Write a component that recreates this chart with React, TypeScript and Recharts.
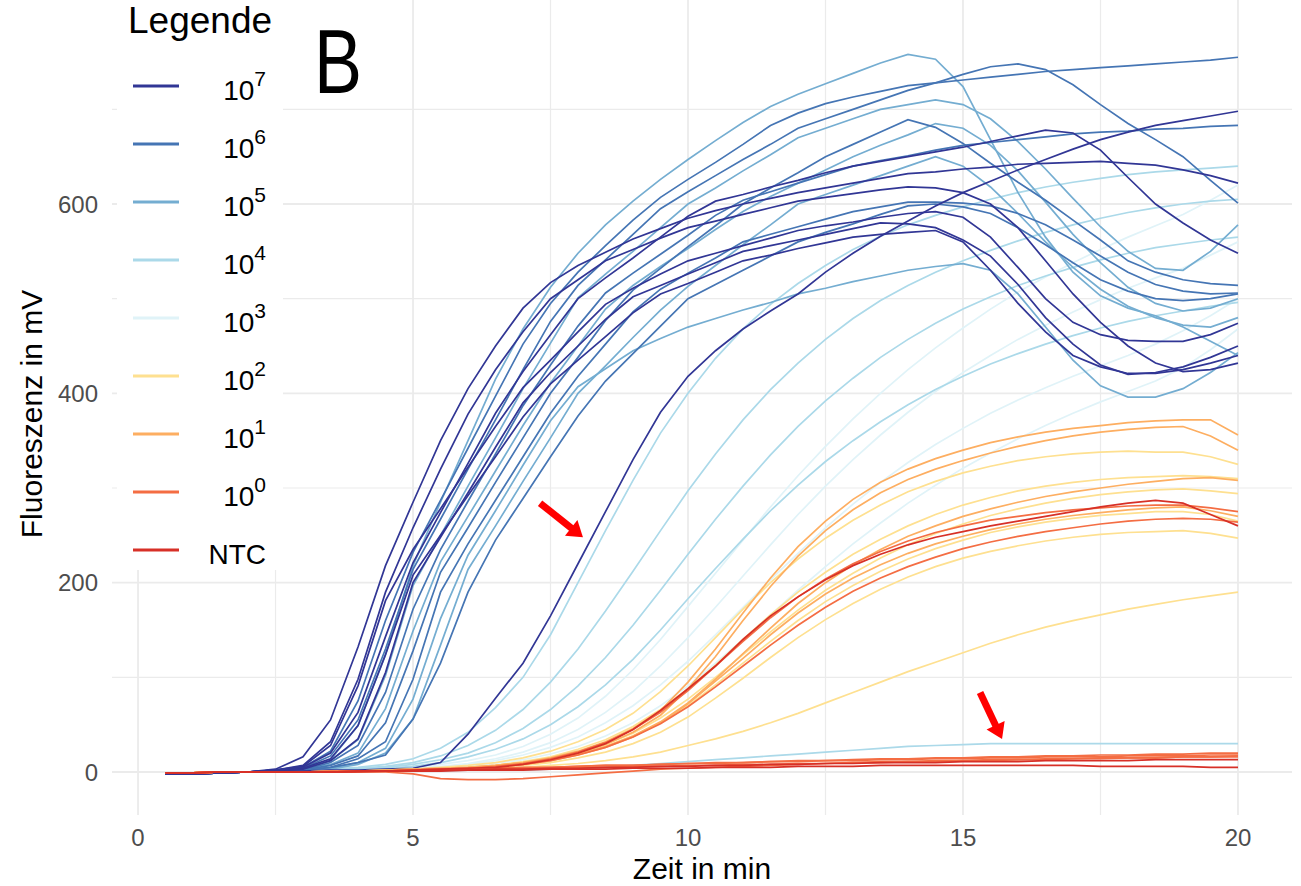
import { LineChart, Line, XAxis, YAxis, CartesianGrid, ReferenceLine } from 'recharts'

const FONT = '"Liberation Sans", Arial, Helvetica, sans-serif'

// measurement times in min
const time = [0.5, 1, 1.5, 2, 2.5, 3, 3.5, 4, 4.5, 5, 5.5, 6, 6.5, 7, 7.5, 8, 8.5, 9, 9.5, 10, 10.5, 11, 11.5, 12, 12.5, 13, 13.5, 14, 14.5, 15, 15.5, 16, 16.5, 17, 17.5, 18, 18.5, 19, 19.5, 20]

// 10^7
const n7a = [-2, -2, -1, 0, 3, 16, 55, 132, 218, 285, 350, 405, 450, 490, 517, 535, 549, 563, 574, 585, 593, 600, 606, 612, 617, 622, 627, 632, 634, 637, 639, 642, 643, 644, 645, 643, 641, 636, 630, 622]
const n7b = [-2, -2, -1, 0, 2, 6, 28, 91, 181, 235, 278, 322, 365, 406, 435, 465, 494, 511, 526, 540, 548, 556, 564, 572, 577, 581, 586, 590, 592, 586, 565, 533, 500, 475, 462, 456, 455, 455, 462, 474]
const n7c = [-2, -2, -1, 0, 1, 4, 14, 49, 124, 208, 250, 292, 333, 375, 410, 435, 460, 485, 505, 516, 528, 540, 546, 553, 559, 565, 568, 570, 572, 560, 530, 495, 465, 440, 428, 421, 421, 425, 432, 440]
const n7d = [-2, -2, -1, 0, 1, 3, 12, 35, 105, 200, 248, 295, 343, 390, 422, 450, 478, 502, 514, 526, 538, 550, 556, 562, 568, 574, 580, 579, 575, 562, 545, 515, 480, 452, 430, 420, 422, 428, 438, 450]
const n7e = [-2, -2, -1, 0, 2, 5, 20, 63, 143, 221, 274, 326, 379, 423, 462, 500, 522, 543, 565, 587, 603, 610, 618, 625, 633, 640, 645, 650, 655, 660, 666, 672, 678, 675, 657, 628, 600, 580, 562, 548]
const n7f = [-2, -2, -1, 0, 2, 7, 32, 98, 190, 258, 320, 378, 425, 465, 500, 520, 540, 552, 564, 575, 582, 589, 596, 603, 607, 611, 615, 618, 617, 612, 600, 575, 540, 505, 475, 450, 432, 423, 425, 432]
const n7g = [-2, -2, -1, 0, 1, 1, 2, 2, 3, 4, 10, 40, 78, 115, 165, 220, 275, 330, 380, 418, 445, 468, 487, 505, 528, 548, 566, 582, 598, 612, 624, 636, 647, 658, 668, 676, 683, 688, 693, 698]

// 10^6
const b6a = [-2, -2, -1, 0, 2, 5, 22, 75, 160, 232, 287, 342, 397, 452, 495, 528, 556, 583, 607, 626, 644, 663, 683, 696, 706, 713, 719, 725, 728, 731, 734, 737, 740, 742, 744, 746, 748, 750, 752, 755]
const b6b = [-2, -2, -1, 0, 1, 2, 10, 28, 84, 172, 235, 286, 336, 387, 430, 471, 506, 527, 547, 567, 588, 604, 613, 622, 631, 640, 646, 651, 657, 662, 665, 668, 671, 674, 676, 677, 679, 680, 682, 683]
const b6c = [-2, -2, -1, 0, 1, 4, 17, 55, 130, 214, 267, 320, 372, 425, 476, 514, 541, 568, 595, 613, 630, 647, 663, 680, 690, 700, 710, 720, 728, 737, 745, 748, 742, 726, 705, 685, 668, 650, 625, 601]
const b6d = [-2, -2, -1, 0, 1, 2, 7, 17, 52, 128, 211, 258, 306, 353, 400, 438, 477, 509, 532, 555, 577, 600, 617, 633, 650, 663, 676, 689, 681, 664, 643, 623, 604, 583, 562, 540, 528, 520, 516, 514]
const b6e = [-2, -2, -1, 0, 1, 2, 5, 10, 18, 56, 115, 190, 245, 289, 333, 376, 413, 442, 471, 500, 515, 530, 545, 560, 570, 579, 589, 598, 600, 597, 590, 575, 557, 538, 520, 508, 500, 498, 500, 505]
const b6f = [-2, -2, -1, 0, 1, 2, 5, 14, 32, 98, 190, 241, 287, 333, 379, 418, 452, 486, 510, 527, 543, 560, 568, 576, 584, 592, 597, 602, 602, 601, 598, 590, 578, 562, 545, 528, 515, 508, 505, 506]

// 10^5
const l5a = [-2, -2, -1, 0, 1, 3, 13, 49, 124, 218, 285, 350, 415, 468, 512, 548, 578, 603, 626, 647, 667, 686, 703, 716, 727, 738, 749, 758, 753, 724, 668, 612, 565, 528, 503, 490, 482, 470, 455, 440]
const l5b = [-2, -2, -1, 0, 1, 3, 12, 34, 102, 197, 250, 302, 353, 405, 453, 501, 526, 550, 575, 600, 617, 635, 652, 670, 680, 690, 700, 705, 710, 705, 690, 666, 637, 606, 576, 550, 532, 530, 550, 578]
const l5c = [-2, -2, -1, 0, 1, 2, 8, 20, 67, 149, 222, 270, 318, 366, 411, 450, 489, 514, 534, 553, 573, 592, 608, 622, 636, 650, 662, 673, 685, 680, 662, 635, 602, 568, 538, 512, 495, 487, 490, 500]
const l5d = [-2, -2, -1, 0, 1, 1, 4, 10, 25, 77, 162, 229, 276, 324, 371, 407, 426, 445, 458, 470, 479, 488, 496, 505, 511, 518, 524, 530, 534, 537, 530, 505, 470, 435, 408, 396, 396, 405, 422, 443]
const l5e = [-2, -2, -1, 0, 1, 1, 3, 8, 20, 56, 134, 214, 260, 307, 353, 400, 429, 459, 488, 513, 535, 557, 578, 600, 610, 620, 630, 640, 650, 640, 618, 590, 560, 533, 510, 492, 480, 472, 470, 480]

// 10^4
const f4a = [-1, -1, 0, 0, 1, 2, 3, 5, 8, 14, 25, 42, 68, 100, 145, 200, 255, 308, 358, 400, 437, 468, 494, 516, 535, 552, 566, 578, 588, 597, 605, 612, 618, 623, 627, 631, 634, 636, 638, 640]
const f4b = [-1, -1, 0, 0, 1, 1, 2, 4, 6, 10, 17, 28, 44, 66, 95, 130, 170, 212, 255, 297, 336, 372, 404, 432, 457, 479, 498, 514, 528, 540, 551, 561, 570, 578, 585, 591, 596, 600, 603, 605]
const f4c = [-1, -1, 0, 0, 0, 1, 2, 3, 5, 8, 13, 20, 31, 46, 66, 91, 121, 155, 192, 230, 267, 302, 335, 365, 392, 416, 438, 457, 474, 489, 502, 514, 524, 533, 541, 548, 554, 558, 562, 565]
const f4d = [-1, -1, 0, 0, 0, 1, 1, 2, 4, 6, 10, 16, 24, 35, 50, 69, 92, 119, 150, 183, 215, 246, 276, 303, 328, 350, 370, 388, 404, 418, 431, 442, 452, 461, 469, 476, 482, 487, 492, 496]
const f4e = [-1, -1, 0, 0, 0, 0, 0, 1, 1, 1, 1, 2, 2, 2, 3, 4, 5, 7, 9, 11, 13, 15, 17, 19, 21, 23, 25, 27, 28, 29, 30, 30, 30, 30, 30, 30, 30, 30, 30, 30]

// 10^3
const p3a = [-1, -1, 0, 0, 0, 1, 1, 2, 3, 5, 8, 12, 18, 27, 40, 57, 80, 108, 140, 175, 210, 245, 280, 313, 344, 373, 400, 425, 448, 469, 489, 507, 523, 538, 552, 565, 577, 589, 604, 620]
const p3b = [-1, -1, 0, 0, 0, 1, 1, 2, 3, 4, 6, 9, 14, 21, 31, 45, 63, 85, 112, 142, 174, 207, 240, 272, 302, 330, 356, 380, 402, 422, 440, 457, 472, 486, 499, 511, 522, 532, 546, 560]
const p3c = [-1, -1, 0, 0, 0, 0, 1, 1, 2, 3, 5, 8, 12, 18, 26, 37, 52, 70, 92, 117, 145, 174, 203, 231, 258, 283, 306, 327, 346, 363, 379, 393, 406, 418, 429, 440, 452, 466, 482, 500]
const p3d = [-1, -1, 0, 0, 0, 0, 1, 1, 2, 3, 4, 6, 9, 13, 19, 27, 38, 52, 70, 91, 115, 140, 166, 192, 217, 241, 263, 284, 303, 321, 337, 352, 366, 379, 391, 402, 413, 427, 446, 468]

// 10^2
const y2a = [-1, -1, 0, 0, 0, 0, 1, 1, 2, 3, 5, 7, 10, 15, 22, 32, 45, 62, 85, 112, 142, 172, 200, 225, 247, 266, 282, 296, 307, 316, 323, 329, 333, 336, 338, 339, 338, 338, 333, 325]
const y2b = [-1, -1, 0, 0, 0, 0, 0, 1, 1, 2, 3, 5, 7, 11, 16, 24, 34, 48, 66, 88, 113, 140, 166, 190, 211, 230, 246, 260, 272, 282, 290, 297, 302, 306, 309, 311, 312, 313, 312, 310]
const y2c = [-1, -1, 0, 0, 0, 0, 0, 1, 1, 2, 3, 4, 6, 9, 13, 19, 27, 38, 52, 70, 92, 115, 138, 160, 180, 197, 212, 225, 236, 245, 253, 259, 264, 268, 271, 273, 275, 275, 272, 265]
const y2d = [-1, -1, 0, 0, 0, 0, 0, 0, 1, 1, 2, 3, 4, 5, 7, 9, 12, 16, 21, 28, 35, 43, 52, 62, 73, 84, 95, 106, 116, 126, 136, 145, 153, 160, 166, 172, 177, 182, 186, 190]
const y2e = [-1, -1, 0, 0, 0, 0, 0, 1, 1, 2, 3, 4, 5, 7, 10, 15, 21, 30, 42, 58, 78, 99, 121, 142, 161, 178, 193, 206, 217, 226, 233, 239, 244, 248, 251, 253, 254, 255, 252, 247]
const y2f = [-1, -1, 0, 0, 0, 0, 0, 1, 1, 2, 3, 4, 6, 9, 13, 20, 29, 41, 57, 77, 100, 124, 148, 171, 192, 210, 226, 240, 252, 262, 271, 278, 284, 289, 293, 296, 298, 299, 297, 294]

// 10^1
const o1a = [-1, -1, 0, 0, 0, 0, 1, 1, 2, 3, 4, 5, 7, 10, 15, 22, 32, 46, 65, 95, 130, 168, 205, 238, 265, 288, 306, 320, 331, 340, 348, 354, 359, 363, 366, 369, 371, 372, 372, 356]
const o1b = [-1, -1, 0, 0, 0, 0, 1, 1, 2, 3, 4, 5, 7, 10, 14, 20, 29, 42, 60, 88, 122, 160, 196, 228, 255, 277, 295, 309, 320, 329, 337, 344, 350, 355, 359, 362, 364, 365, 355, 340]
const o1c = [-1, -1, 0, 0, 0, 0, 0, 1, 1, 2, 3, 4, 6, 9, 13, 19, 27, 38, 53, 73, 98, 125, 152, 178, 200, 219, 235, 249, 260, 270, 278, 285, 291, 296, 300, 304, 307, 310, 311, 308]
const o1d = [-1, -1, 0, 0, 0, 0, 0, 1, 1, 2, 3, 4, 5, 8, 12, 18, 26, 37, 52, 72, 96, 120, 145, 168, 188, 205, 219, 231, 241, 249, 256, 262, 267, 271, 274, 277, 279, 280, 276, 270]

// 10^0
const r0a = [-1, -1, 0, 0, 0, 0, 0, 1, 1, 2, 3, 4, 6, 9, 14, 21, 31, 45, 63, 86, 112, 138, 163, 185, 204, 220, 233, 244, 253, 260, 266, 270, 274, 277, 279, 281, 282, 282, 279, 275]
const r0b = [-1, -1, 0, 0, 0, 0, 0, 1, 1, 2, 3, 4, 5, 8, 12, 18, 26, 37, 51, 69, 90, 112, 134, 155, 174, 191, 205, 217, 227, 236, 243, 249, 254, 258, 262, 265, 267, 268, 267, 264]
const r0c = [-1, -1, 0, 0, 0, 0, 0, 1, 1, 2, 2, 3, 3, 4, 4, 5, 5, 6, 6, 7, 7, 8, 8, 9, 9, 10, 10, 11, 11, 12, 12, 13, 13, 14, 14, 15, 15, 16, 16, 17]
const r0d = [-1, -1, 0, 0, 0, 0, 0, 0, 0, -2, -7, -8, -8, -7, -5, -3, -1, 1, 3, 4, 5, 6, 7, 8, 9, 10, 11, 11, 12, 12, 13, 13, 14, 14, 15, 15, 15, 16, 16, 16]
const r0e = [-1, -1, 0, 0, 0, 0, 0, 1, 1, 2, 2, 3, 4, 4, 5, 6, 7, 7, 8, 9, 10, 10, 11, 12, 12, 13, 14, 14, 15, 15, 16, 16, 17, 17, 18, 18, 19, 19, 20, 20]
const r0f = [-1, -1, 0, 0, 0, 0, 1, 1, 1, 2, 3, 3, 4, 5, 5, 6, 7, 7, 8, 9, 9, 10, 11, 11, 12, 12, 13, 13, 14, 14, 15, 15, 16, 16, 16, 17, 17, 17, 18, 18]

// NTC
const ntcA = [-1, -1, 0, 0, 0, 0, 0, 1, 1, 2, 3, 4, 5, 8, 13, 20, 30, 45, 65, 88, 112, 140, 165, 185, 203, 218, 230, 240, 248, 254, 260, 265, 270, 275, 280, 284, 287, 284, 272, 260]
const ntcB = [-1, -1, 0, 0, 0, 0, 0, 0, 1, 1, 1, 2, 2, 2, 3, 3, 3, 4, 4, 4, 5, 5, 5, 6, 6, 6, 7, 7, 7, 7, 7, 7, 7, 7, 6, 6, 6, 6, 5, 5]
const ntcC = [-1, -1, 0, 0, 0, 0, 0, 1, 1, 1, 2, 2, 3, 3, 4, 4, 5, 5, 6, 6, 7, 7, 8, 8, 9, 9, 10, 10, 10, 11, 11, 11, 12, 12, 12, 12, 13, 13, 13, 13]

// legend groups: 10^7 ... 10^0, NTC
const groupExps = ['7', '6', '5', '4', '3', '2', '1', '0', '']
const groupColors = ['#313695', '#4575b4', '#74add1', '#abd9e9', '#e0f3f8', '#fee090', '#fdae61', '#f46d43', '#d73027']

const xTicks = [0, 5, 10, 15, 20]
const xMinor = [2.5, 7.5, 12.5, 17.5]
const yTicks = [0, 200, 400, 600]
const yMinor = [100, 300, 500, 700]

// annotation arrows (data coordinates)
const arrows = [
    { from: { x: 7.31, y: 284 }, to: { x: 8.09, y: 248 } },
    { from: { x: 15.31, y: 84 }, to: { x: 15.71, y: 35 } },
]

// drawing order: pale first, reds last
const series = [
    { key: 'p3a', group: 4, values: p3a },
    { key: 'p3b', group: 4, values: p3b },
    { key: 'p3c', group: 4, values: p3c },
    { key: 'p3d', group: 4, values: p3d },
    { key: 'f4a', group: 3, values: f4a },
    { key: 'f4b', group: 3, values: f4b },
    { key: 'f4c', group: 3, values: f4c },
    { key: 'f4d', group: 3, values: f4d },
    { key: 'f4e', group: 3, values: f4e },
    { key: 'l5a', group: 2, values: l5a },
    { key: 'l5b', group: 2, values: l5b },
    { key: 'l5c', group: 2, values: l5c },
    { key: 'l5d', group: 2, values: l5d },
    { key: 'l5e', group: 2, values: l5e },
    { key: 'b6a', group: 1, values: b6a },
    { key: 'b6b', group: 1, values: b6b },
    { key: 'b6c', group: 1, values: b6c },
    { key: 'b6d', group: 1, values: b6d },
    { key: 'b6e', group: 1, values: b6e },
    { key: 'b6f', group: 1, values: b6f },
    { key: 'n7a', group: 0, values: n7a },
    { key: 'n7b', group: 0, values: n7b },
    { key: 'n7c', group: 0, values: n7c },
    { key: 'n7d', group: 0, values: n7d },
    { key: 'n7e', group: 0, values: n7e },
    { key: 'n7f', group: 0, values: n7f },
    { key: 'n7g', group: 0, values: n7g },
    { key: 'y2a', group: 5, values: y2a },
    { key: 'y2b', group: 5, values: y2b },
    { key: 'y2c', group: 5, values: y2c },
    { key: 'y2d', group: 5, values: y2d },
    { key: 'y2e', group: 5, values: y2e },
    { key: 'y2f', group: 5, values: y2f },
    { key: 'o1a', group: 6, values: o1a },
    { key: 'o1b', group: 6, values: o1b },
    { key: 'o1c', group: 6, values: o1c },
    { key: 'o1d', group: 6, values: o1d },
    { key: 'r0a', group: 7, values: r0a },
    { key: 'r0b', group: 7, values: r0b },
    { key: 'r0c', group: 7, values: r0c },
    { key: 'r0d', group: 7, values: r0d },
    { key: 'r0e', group: 7, values: r0e },
    { key: 'r0f', group: 7, values: r0f },
    { key: 'ntcA', group: 8, values: ntcA },
    { key: 'ntcB', group: 8, values: ntcB },
    { key: 'ntcC', group: 8, values: ntcC },
]

const rows = time.map((t, i) => {
    const row: Record<string, number> = { t }
    series.forEach((s) => {
        row[s.key] = s.values[i]
    })
    return row
})

// red arrow drawn between the two segment end points
const Arrow = (props: any) => {
    const { x1, y1, x2, y2 } = props
    const dx = x2 - x1
    const dy = y2 - y1
    const len = Math.hypot(dx, dy) || 1
    const ux = dx / len
    const uy = dy / len
    const head = 15
    const half = 10
    const bx = x2 - ux * head
    const by = y2 - uy * head
    return (
        <g>
            <line x1={x1} y1={y1} x2={bx + ux * 2} y2={by + uy * 2} stroke="#ff0000" strokeWidth={7} />
            <polygon
                points={`${x2},${y2} ${bx - uy * half},${by + ux * half} ${bx + uy * half},${by - ux * half}`}
                fill="#ff0000"
            />
        </g>
    )
}

export default function App() {
    return (
        <div style={{ position: 'absolute', left: 0, top: 0, width: 1301, height: 886, background: '#fff' }}>
            <LineChart width={1301} height={886} data={rows} margin={{ top: 0, right: 9, bottom: 0, left: 0 }}>
                <CartesianGrid stroke="#ebebeb" strokeWidth={1.2} verticalValues={xMinor} horizontalValues={yMinor} />
                <CartesianGrid stroke="#ebebeb" strokeWidth={1.8} verticalValues={xTicks} horizontalValues={yTicks} />
                <XAxis
                    dataKey="t"
                    type="number"
                    domain={[-0.473, 20.982]}
                    ticks={xTicks}
                    interval={0}
                    allowDataOverflow
                    height={71}
                    tickLine={false}
                    axisLine={false}
                    tickSize={0}
                    tickMargin={14}
                    tick={{ fontSize: 24, fill: '#4d4d4d', fontFamily: FONT }}
                />
                <YAxis
                    type="number"
                    domain={[-45.4, 815.5]}
                    ticks={yTicks}
                    interval={0}
                    allowDataOverflow
                    width={112}
                    tickLine={false}
                    axisLine={false}
                    tickSize={0}
                    tickMargin={14}
                    tick={{ fontSize: 24, fill: '#4d4d4d', fontFamily: FONT }}
                />
                {series.map((s) => (
                    <Line
                        key={s.key}
                        dataKey={s.key}
                        type="linear"
                        stroke={groupColors[s.group]}
                        strokeWidth={1.7}
                        dot={false}
                        activeDot={false}
                        isAnimationActive={false}
                    />
                ))}
                {arrows.map((a, i) => (
                    <ReferenceLine key={i} segment={[a.from, a.to]} ifOverflow="visible" shape={Arrow} />
                ))}
            </LineChart>
            <svg
                width={1301}
                height={886}
                style={{ position: 'absolute', left: 0, top: 0, pointerEvents: 'none' }}
                fontFamily={FONT}
            >
                <rect x={117} y={0} width={166} height={570} fill="#fff" />
                <text x={128} y={33} fontSize={37} fill="#000">
                    Legende
                </text>
                {groupColors.map((c, k) => {
                    const ly = 86 + 58 * k
                    return (
                        <g key={k}>
                            <line x1={133} x2={179} y1={ly} y2={ly} stroke={c} strokeWidth={2.8} />
                            {groupExps[k] ? (
                                <text x={266} y={ly + 14} fontSize={28} textAnchor="end" fill="#000">
                                    10
                                    <tspan dy={-14} fontSize={21}>
                                        {groupExps[k]}
                                    </tspan>
                                </text>
                            ) : (
                                <text x={266} y={ly + 14} fontSize={28} textAnchor="end" fill="#000">
                                    NTC
                                </text>
                            )}
                        </g>
                    )
                })}
                <text transform="translate(314,93) scale(0.8,1)" fontSize={90} fill="#000">
                    B
                </text>
                <text x={702} y={879} fontSize={30} textAnchor="middle" fill="#000">
                    Zeit in min
                </text>
                <text transform="translate(42,414) rotate(-90)" fontSize={30} textAnchor="middle" fill="#000">
                    Fluoreszenz in mV
                </text>
            </svg>
        </div>
    )
}
